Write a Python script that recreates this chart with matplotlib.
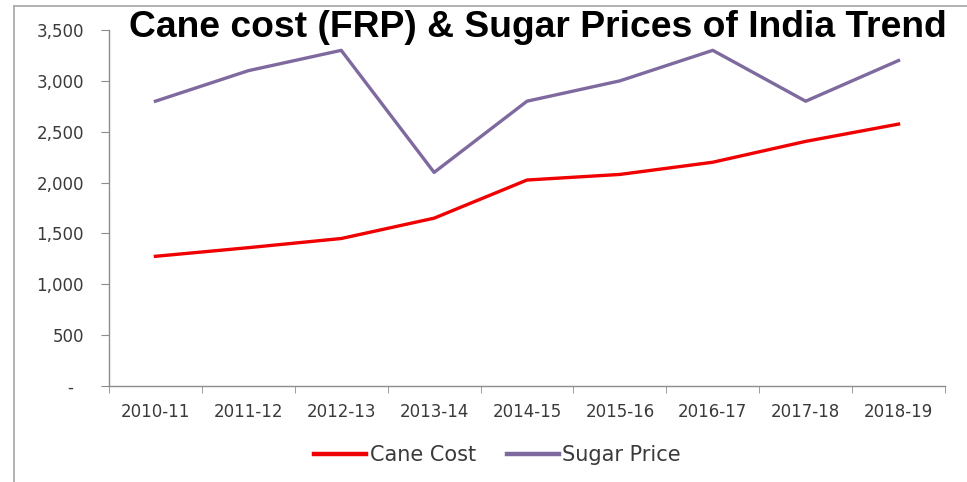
import matplotlib
matplotlib.use("Agg")
import matplotlib.pyplot as plt
from matplotlib.lines import Line2D
from matplotlib.ticker import FixedLocator, FuncFormatter

seasons = ["2010-11", "2011-12", "2012-13", "2013-14", "2014-15",
           "2015-16", "2016-17", "2017-18", "2018-19"]
cane_cost = [1275, 1360, 1450, 1650, 2025, 2080, 2200, 2405, 2575]
sugar_price = [2800, 3100, 3300, 2100, 2800, 3000, 3300, 2800, 3200]
y_ticks = [0, 500, 1000, 1500, 2000, 2500, 3000, 3500]

title = "Cane cost (FRP) & Sugar Prices of India Trend"

W, H = 967, 482
fig = plt.figure(figsize=(W / 100, H / 100), dpi=100)
fig.patch.set_facecolor("white")

ax = fig.add_axes([109 / W, 1 - 386 / H, (945 - 109) / W, (386 - 30) / H])

x = list(range(len(seasons)))
ax.plot(x, cane_cost, color="#F00000", lw=2.4, label="Cane Cost", solid_joinstyle="round")
ax.plot(x, sugar_price, color="#7E6A9E", lw=2.4, label="Sugar Price", solid_joinstyle="round")

ax.set_xlim(-0.5, len(seasons) - 0.5)
ax.set_ylim(0, 3500)

axis_grey = "#8C8C8C"
text_grey = "#3A3A3A"
for s in ["top", "right"]:
    ax.spines[s].set_visible(False)
for s in ["left", "bottom"]:
    ax.spines[s].set_color(axis_grey)
    ax.spines[s].set_linewidth(1.0)

ax.set_xticks(x)
ax.set_xticklabels(seasons)
ax.xaxis.set_minor_locator(FixedLocator([i - 0.5 for i in range(len(seasons) + 1)]))
ax.tick_params(axis="x", which="major", length=0, pad=12, labelsize=12, labelcolor=text_grey)
ax.tick_params(axis="x", which="minor", length=5, color=axis_grey, direction="out")

ax.set_yticks(y_ticks)
ax.yaxis.set_major_formatter(FuncFormatter(lambda v, p: "-  " if v == 0 else f"{int(v):,}"))
ax.tick_params(axis="y", length=6, color=axis_grey, direction="out", pad=12,
               labelsize=12, labelcolor=text_grey)
for lbl in ax.get_xticklabels() + ax.get_yticklabels():
    lbl.set_family("DejaVu Sans")

fig.text(537.5 / W, 1 - 37 / H, title, ha="center", va="baseline",
         fontsize=26.8, fontweight="bold", family="Liberation Sans", color="black")

leg = fig.legend(loc="center", bbox_to_anchor=(497.5 / W, 1 - 455 / H), ncol=2,
                 frameon=False, handlelength=2.5, handletextpad=0.15,
                 columnspacing=1.5, prop={"family": "DejaVu Sans", "size": 15})
for t in leg.get_texts():
    t.set_color(text_grey)
for h in leg.get_lines():
    h.set_linewidth(3.2)

frame_grey = "#A6A6A6"
fig.add_artist(Line2D([14 / W, 14 / W], [0, 1 - 6 / H], transform=fig.transFigure,
                      color=frame_grey, lw=1.2))
fig.add_artist(Line2D([14 / W, 1], [1 - 6 / H, 1 - 6 / H], transform=fig.transFigure,
                      color=frame_grey, lw=1.2))

fig.savefig("out.png", dpi=100, facecolor="white")
